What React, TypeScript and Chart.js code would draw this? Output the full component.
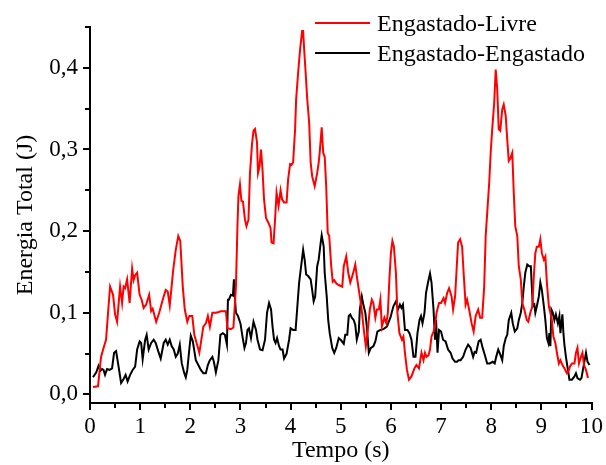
import { useEffect, useRef } from 'react';
import { Chart, registerables } from 'chart.js';

Chart.register(...registerables);

const seriesNames = ['Engastado-Livre', 'Engastado-Engastado'];

const redX = [
  0.06, 0.16, 0.22, 0.28, 0.32, 0.36, 0.40, 0.46, 0.50, 0.54, 0.60, 0.64, 0.67, 0.70, 0.74, 0.79, 0.84, 0.87, 0.90, 0.94,
  0.99, 1.03, 1.07, 1.12, 1.18, 1.22, 1.25, 1.32, 1.38, 1.45, 1.51, 1.55, 1.59, 1.66, 1.71, 1.76, 1.80, 1.85, 1.89, 1.94,
  1.98, 2.04, 2.08, 2.18, 2.26, 2.31, 2.35, 2.39, 2.44, 2.51, 2.57, 2.61, 2.71, 2.74, 2.81, 2.86, 2.91, 2.94, 2.96, 2.99,
  3.02, 3.05, 3.09, 3.12, 3.16, 3.19, 3.23, 3.26, 3.29, 3.33, 3.35, 3.38, 3.41, 3.44, 3.47, 3.51, 3.56, 3.60, 3.62, 3.66,
  3.69, 3.72, 3.76, 3.80, 3.83, 3.87, 3.92, 3.95, 3.99, 4.02, 4.05, 4.09, 4.11, 4.15, 4.19, 4.23, 4.25, 4.27, 4.30, 4.33,
  4.37, 4.40, 4.43, 4.48, 4.53, 4.56, 4.58, 4.62, 4.65, 4.68, 4.71, 4.74, 4.77, 4.81, 4.84, 4.87, 4.91, 4.96, 5.03, 5.06,
  5.11, 5.15, 5.19, 5.24, 5.29, 5.32, 5.37, 5.41, 5.46, 5.50, 5.54, 5.58, 5.62, 5.65, 5.69, 5.72, 5.76, 5.79, 5.82, 5.87,
  5.91, 5.94, 5.97, 6.00, 6.03, 6.06, 6.10, 6.13, 6.17, 6.22, 6.25, 6.28, 6.32, 6.36, 6.41, 6.47, 6.51, 6.56, 6.61, 6.65,
  6.68, 6.71, 6.75, 6.78, 6.81, 6.85, 6.88, 6.91, 6.96, 7.00, 7.05, 7.08, 7.12, 7.16, 7.21, 7.24, 7.28, 7.31, 7.34, 7.38,
  7.42, 7.45, 7.49, 7.52, 7.56, 7.61, 7.65, 7.69, 7.74, 7.78, 7.82, 7.86, 7.89, 7.92, 7.96, 7.99, 8.02, 8.06, 8.09, 8.12,
  8.15, 8.18, 8.22, 8.25, 8.29, 8.32, 8.35, 8.38, 8.42, 8.45, 8.48, 8.52, 8.55, 8.59, 8.62, 8.66, 8.71, 8.74, 8.78, 8.82,
  8.85, 8.88, 8.91, 8.95, 8.98, 9.01, 9.05, 9.08, 9.11, 9.15, 9.18, 9.21, 9.24, 9.28, 9.31, 9.35, 9.38, 9.42, 9.46, 9.51,
  9.54, 9.57, 9.61, 9.66, 9.69, 9.72, 9.75, 9.79, 9.82, 9.85, 9.89, 9.93,
];
const redY = [
  0.009, 0.010, 0.046, 0.059, 0.067, 0.100, 0.132, 0.122, 0.098, 0.089, 0.132, 0.112, 0.132, 0.130, 0.141, 0.112, 0.154, 0.140, 0.146, 0.149,
  0.122, 0.116, 0.106, 0.110, 0.122, 0.102, 0.105, 0.089, 0.100, 0.116, 0.128, 0.126, 0.109, 0.153, 0.177, 0.194, 0.188, 0.132, 0.104, 0.089,
  0.096, 0.096, 0.073, 0.051, 0.083, 0.087, 0.096, 0.083, 0.100, 0.100, 0.101, 0.102, 0.102, 0.081, 0.080, 0.082, 0.132, 0.206, 0.243, 0.257,
  0.237, 0.236, 0.214, 0.206, 0.214, 0.271, 0.306, 0.323, 0.325, 0.309, 0.271, 0.279, 0.300, 0.275, 0.239, 0.216, 0.210, 0.204, 0.186, 0.185,
  0.214, 0.247, 0.231, 0.250, 0.239, 0.235, 0.235, 0.263, 0.282, 0.281, 0.284, 0.325, 0.361, 0.394, 0.423, 0.445, 0.445, 0.423, 0.394, 0.363,
  0.333, 0.284, 0.267, 0.255, 0.271, 0.284, 0.296, 0.327, 0.296, 0.291, 0.255, 0.198, 0.194, 0.157, 0.138, 0.140, 0.136, 0.134, 0.132, 0.157,
  0.169, 0.149, 0.137, 0.147, 0.159, 0.145, 0.124, 0.108, 0.079, 0.059, 0.079, 0.104, 0.116, 0.112, 0.094, 0.104, 0.104, 0.116, 0.083, 0.094,
  0.087, 0.100, 0.141, 0.173, 0.188, 0.181, 0.149, 0.100, 0.075, 0.067, 0.071, 0.051, 0.030, 0.018, 0.022, 0.032, 0.036, 0.032, 0.051, 0.042,
  0.051, 0.046, 0.048, 0.055, 0.071, 0.077, 0.083, 0.100, 0.112, 0.112, 0.118, 0.112, 0.124, 0.130, 0.120, 0.104, 0.120, 0.153, 0.186, 0.190,
  0.181, 0.149, 0.110, 0.116, 0.104, 0.087, 0.077, 0.096, 0.104, 0.094, 0.094, 0.132, 0.194, 0.222, 0.259, 0.296, 0.325, 0.357, 0.398, 0.374,
  0.325, 0.323, 0.349, 0.355, 0.341, 0.312, 0.286, 0.289, 0.296, 0.247, 0.206, 0.194, 0.157, 0.141, 0.112, 0.104, 0.091, 0.089, 0.100, 0.108,
  0.145, 0.173, 0.181, 0.181, 0.190, 0.173, 0.165, 0.169, 0.137, 0.108, 0.100, 0.091, 0.071, 0.063, 0.051, 0.038, 0.042, 0.036, 0.032, 0.026,
  0.028, 0.034, 0.038, 0.038, 0.051, 0.057, 0.038, 0.046, 0.051, 0.036, 0.030, 0.020,
];

const blackX = [
  0.06, 0.125, 0.17, 0.21, 0.24, 0.27, 0.30, 0.34, 0.39, 0.44, 0.48, 0.52, 0.57, 0.62, 0.67, 0.71, 0.75, 0.80, 0.85, 0.90,
  0.94, 0.99, 1.02, 1.05, 1.10, 1.13, 1.17, 1.22, 1.27, 1.31, 1.36, 1.41, 1.47, 1.51, 1.55, 1.59, 1.63, 1.67, 1.71, 1.75,
  1.79, 1.83, 1.88, 1.91, 1.94, 1.98, 2.01, 2.05, 2.11, 2.16, 2.21, 2.26, 2.31, 2.35, 2.39, 2.44, 2.47, 2.51, 2.56, 2.60,
  2.65, 2.69, 2.73, 2.75, 2.77, 2.81, 2.85, 2.87, 2.88, 2.91, 2.95, 3.00, 3.04, 3.08, 3.11, 3.14, 3.17, 3.21, 3.26, 3.31,
  3.34, 3.39, 3.44, 3.49, 3.53, 3.57, 3.61, 3.64, 3.67, 3.70, 3.73, 3.77, 3.80, 3.84, 3.87, 3.92, 3.97, 4.00, 4.05, 4.10,
  4.13, 4.17, 4.21, 4.25, 4.28, 4.31, 4.35, 4.40, 4.43, 4.46, 4.49, 4.53, 4.56, 4.60, 4.62, 4.66, 4.68, 4.72, 4.75, 4.78,
  4.83, 4.87, 4.91, 4.96, 5.01, 5.06, 5.09, 5.13, 5.16, 5.19, 5.22, 5.26, 5.29, 5.32, 5.36, 5.38, 5.42, 5.45, 5.49, 5.52,
  5.56, 5.60, 5.65, 5.69, 5.73, 5.79, 5.85, 5.92, 5.99, 6.05, 6.10, 6.14, 6.18, 6.21, 6.24, 6.28, 6.33, 6.37, 6.41, 6.45,
  6.49, 6.53, 6.57, 6.60, 6.63, 6.67, 6.70, 6.74, 6.78, 6.81, 6.85, 6.88, 6.90, 6.93, 6.96, 7.00, 7.04, 7.09, 7.14, 7.19,
  7.23, 7.28, 7.32, 7.35, 7.39, 7.44, 7.49, 7.54, 7.59, 7.64, 7.67, 7.70, 7.75, 7.79, 7.83, 7.87, 7.92, 7.97, 8.03, 8.07,
  8.10, 8.14, 8.18, 8.22, 8.25, 8.29, 8.32, 8.35, 8.40, 8.43, 8.47, 8.52, 8.55, 8.59, 8.62, 8.65, 8.68, 8.72, 8.76, 8.79,
  8.81, 8.83, 8.86, 8.88, 8.91, 8.95, 8.98, 9.01, 9.05, 9.08, 9.11, 9.14, 9.16, 9.18, 9.20, 9.23, 9.26, 9.29, 9.33, 9.36,
  9.38, 9.42, 9.44, 9.46, 9.49, 9.52, 9.56, 9.61, 9.66, 9.69, 9.72, 9.77, 9.80, 9.84, 9.89, 9.92, 9.96,
];
const blackY = [
  0.021, 0.027, 0.035, 0.029, 0.031, 0.030, 0.024, 0.031, 0.030, 0.032, 0.051, 0.053, 0.034, 0.014, 0.019, 0.024, 0.016, 0.024, 0.030, 0.034,
  0.055, 0.065, 0.063, 0.043, 0.067, 0.073, 0.055, 0.063, 0.067, 0.063, 0.053, 0.044, 0.063, 0.067, 0.061, 0.067, 0.059, 0.055, 0.046, 0.050,
  0.061, 0.038, 0.026, 0.021, 0.030, 0.055, 0.072, 0.065, 0.042, 0.036, 0.030, 0.026, 0.026, 0.036, 0.042, 0.046, 0.040, 0.027, 0.042, 0.073,
  0.075, 0.073, 0.061, 0.116, 0.116, 0.122, 0.121, 0.141, 0.127, 0.100, 0.096, 0.087, 0.071, 0.057, 0.063, 0.079, 0.081, 0.069, 0.089, 0.079,
  0.067, 0.055, 0.054, 0.067, 0.100, 0.112, 0.104, 0.083, 0.067, 0.063, 0.069, 0.059, 0.055, 0.055, 0.044, 0.050, 0.067, 0.081, 0.079, 0.079,
  0.104, 0.137, 0.157, 0.177, 0.165, 0.147, 0.145, 0.141, 0.128, 0.114, 0.120, 0.157, 0.165, 0.186, 0.195, 0.181, 0.149, 0.120, 0.091, 0.075,
  0.057, 0.051, 0.057, 0.069, 0.066, 0.062, 0.073, 0.073, 0.096, 0.098, 0.094, 0.091, 0.085, 0.067, 0.077, 0.104, 0.120, 0.110, 0.100, 0.083,
  0.051, 0.057, 0.059, 0.065, 0.077, 0.079, 0.080, 0.083, 0.094, 0.108, 0.114, 0.104, 0.110, 0.106, 0.110, 0.079, 0.079, 0.075, 0.067, 0.046,
  0.046, 0.075, 0.091, 0.096, 0.087, 0.100, 0.124, 0.137, 0.148, 0.137, 0.104, 0.067, 0.091, 0.051, 0.079, 0.077, 0.067, 0.065, 0.055, 0.051,
  0.044, 0.040, 0.040, 0.042, 0.042, 0.046, 0.055, 0.061, 0.057, 0.046, 0.052, 0.051, 0.065, 0.067, 0.057, 0.049, 0.038, 0.038, 0.040, 0.038,
  0.046, 0.055, 0.049, 0.042, 0.059, 0.069, 0.073, 0.091, 0.100, 0.087, 0.077, 0.081, 0.091, 0.100, 0.112, 0.132, 0.149, 0.159, 0.157, 0.157,
  0.132, 0.108, 0.110, 0.100, 0.108, 0.120, 0.137, 0.128, 0.108, 0.091, 0.069, 0.063, 0.075, 0.059, 0.104, 0.100, 0.091, 0.098, 0.087, 0.096,
  0.075, 0.098, 0.075, 0.061, 0.046, 0.034, 0.018, 0.018, 0.022, 0.026, 0.020, 0.018, 0.020, 0.034, 0.051, 0.040, 0.036,
];

const xTickValues = [0, 1, 2, 3, 4, 5, 6, 7, 8, 9, 10];
const yTickValues = [0, 0.1, 0.2, 0.3, 0.4];
const xMinorValues = [0.5, 1.5, 2.5, 3.5, 4.5, 5.5, 6.5, 7.5, 8.5, 9.5];
const yMinorValues = [0.05, 0.15, 0.25, 0.35, 0.45];

const FONT = '"Liberation Serif", "Times New Roman", serif';
const RED = '#ff0000';
const BLACK = '#000000';

const minorTicksPlugin = {
  id: 'minorTicks',
  afterDraw(chart: any) {
    const { ctx, chartArea } = chart;
    const xs = chart.scales.x;
    const ys = chart.scales.y;
    ctx.save();
    ctx.strokeStyle = BLACK;
    ctx.lineWidth = 2;
    ctx.beginPath();
    xMinorValues.forEach((v) => {
      const px = Math.round(xs.getPixelForValue(v));
      ctx.moveTo(px, chartArea.bottom);
      ctx.lineTo(px, chartArea.bottom + 5);
    });
    yMinorValues.forEach((v) => {
      const py = Math.round(ys.getPixelForValue(v));
      ctx.moveTo(chartArea.left - 5, py);
      ctx.lineTo(chartArea.left, py);
    });
    ctx.stroke();
    ctx.restore();
  },
};

const legendPlugin = {
  id: 'insideLegend',
  afterDraw(chart: any) {
    const { ctx } = chart;
    ctx.save();
    chart.data.datasets.forEach((ds: any, i: number) => {
      const y = 23 + i * 30;
      ctx.strokeStyle = ds.borderColor;
      ctx.lineWidth = 2;
      ctx.beginPath();
      ctx.moveTo(315, y);
      ctx.lineTo(370, y);
      ctx.stroke();
      ctx.fillStyle = BLACK;
      ctx.font = `24px ${FONT}`;
      ctx.textAlign = 'left';
      ctx.textBaseline = 'alphabetic';
      ctx.fillText(ds.label, 377, y + 8);
    });
    ctx.restore();
  },
};

export default function App() {
  const ref = useRef<HTMLCanvasElement>(null);

  useEffect(() => {
    if (!ref.current) return;
    const chart = new Chart(ref.current, {
      type: 'line',
      data: {
        datasets: [
          {
            label: seriesNames[0],
            data: redX.map((x, i) => ({ x, y: redY[i] })),
            borderColor: RED,
            borderWidth: 2,
            pointRadius: 0,
            tension: 0,
            fill: false,
          },
          {
            label: seriesNames[1],
            data: blackX.map((x, i) => ({ x, y: blackY[i] })),
            borderColor: BLACK,
            borderWidth: 2,
            pointRadius: 0,
            tension: 0,
            fill: false,
          },
        ],
      },
      options: {
        animation: false,
        responsive: false,
        devicePixelRatio: 1,
        layout: { padding: { top: 27, right: 12, left: 0, bottom: 0 } },
        plugins: {
          legend: { display: false },
          tooltip: { enabled: false },
        },
        scales: {
          x: {
            type: 'linear',
            min: 0,
            max: 10,
            afterBuildTicks: (s: any) => {
              s.ticks = xTickValues.map((v) => ({ value: v }));
            },
            afterFit: (s: any) => {
              s.height = 62;
            },
            ticks: {
              font: { family: FONT, size: 23 },
              color: BLACK,
              padding: 3,
              maxRotation: 0,
              autoSkip: false,
            },
            grid: {
              drawOnChartArea: false,
              drawTicks: true,
              tickLength: 7,
              color: BLACK,
              lineWidth: 2,
            },
            border: { display: true, color: BLACK, width: 2 },
            title: {
              display: true,
              text: 'Tempo (s)',
              color: BLACK,
              font: { family: FONT, size: 24 },
              padding: { top: 0, bottom: 0 },
            },
          },
          y: {
            type: 'linear',
            min: -0.0105,
            max: 0.45,
            afterBuildTicks: (s: any) => {
              s.ticks = yTickValues.map((v) => ({ value: v }));
            },
            afterFit: (s: any) => {
              s.width = 90;
            },
            ticks: {
              font: { family: FONT, size: 23 },
              color: BLACK,
              padding: 5,
              callback: (v: any) => Number(v).toFixed(1).replace('.', ','),
            },
            grid: {
              drawOnChartArea: false,
              drawTicks: true,
              tickLength: 7,
              color: BLACK,
              lineWidth: 2,
            },
            border: { display: true, color: BLACK, width: 2 },
            title: {
              display: true,
              text: 'Energia Total (J)',
              color: BLACK,
              font: { family: FONT, size: 24 },
              padding: { top: 11, bottom: 0 },
            },
          },
        },
      },
      plugins: [minorTicksPlugin, legendPlugin],
    } as any);
    return () => chart.destroy();
  }, []);

  return (
    <div style={{ position: 'absolute', left: 0, top: 0, width: 606, height: 465, background: '#fff' }}>
      <canvas ref={ref} width={606} height={465} style={{ display: 'block' }} />
    </div>
  );
}
